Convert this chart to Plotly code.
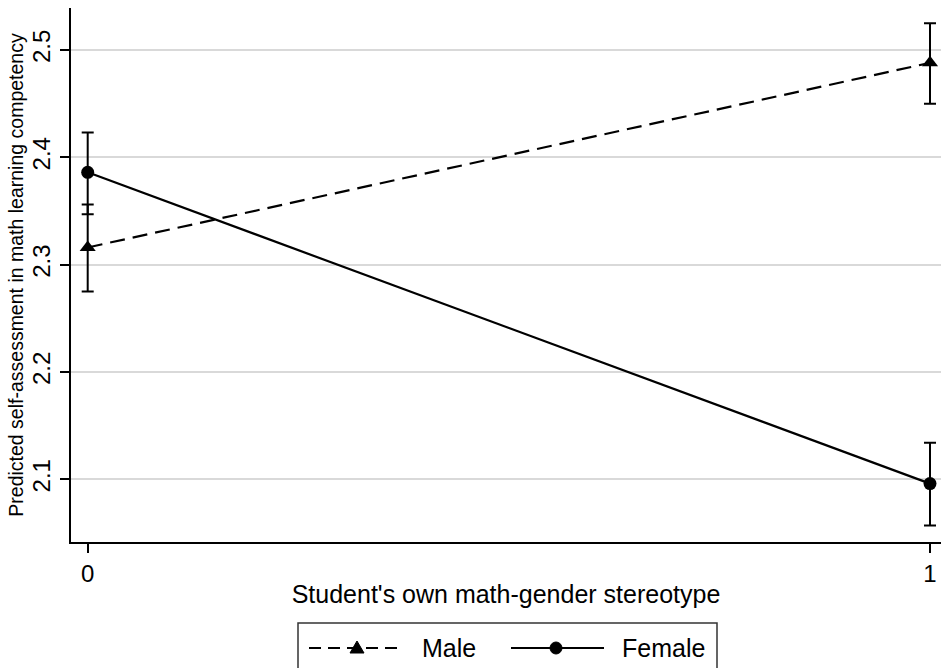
import plotly.graph_objects as go

# Predicted margins with 95% confidence intervals
stereotype = [0, 1]
male = [2.316, 2.488]
male_lo = [2.275, 2.450]
male_hi = [2.356, 2.525]
female = [2.386, 2.096]
female_lo = [2.347, 2.057]
female_hi = [2.423, 2.134]
y_ticks = [2.1, 2.2, 2.3, 2.4, 2.5]
x_ticks = [0, 1]
series_names = ["Male", "Female"]

FONT = "Liberation Sans, Arial, Helvetica, sans-serif"


def err(vals, lo, hi):
    return dict(
        type="data", symmetric=False,
        array=[h - v for v, h in zip(vals, hi)],
        arrayminus=[v - l for v, l in zip(vals, lo)],
        color="black", thickness=2, width=6,
    )


fig = go.Figure()
fig.add_trace(go.Scatter(
    x=stereotype, y=male, mode="lines+markers", name=series_names[0],
    line=dict(color="black", width=2.2, dash="15px,8px"),
    marker=dict(symbol="triangle-up", size=14, color="black"),
    error_y=err(male, male_lo, male_hi), showlegend=False,
))
fig.add_trace(go.Scatter(
    x=stereotype, y=female, mode="lines+markers", name=series_names[1],
    line=dict(color="black", width=2.2),
    marker=dict(symbol="circle", size=13, color="black"),
    error_y=err(female, female_lo, female_hi), showlegend=False,
))

# Hand-built legend below the x-axis title (paper coordinates)
L, R, T, B = 71, 941, 8, 542
W, H = R - L, B - T


def px(X):
    return (X - L) / W


def py(Y):
    return (B - Y) / H


ly = py(648)
shapes = [
    dict(type="rect", xref="paper", yref="paper", x0=px(298), x1=px(717),
         y0=py(623), y1=py(690), line=dict(color="#333333", width=1.5),
         fillcolor="white", layer="below"),
    dict(type="line", xref="paper", yref="paper", x0=px(309), x1=px(404),
         y0=ly, y1=ly, line=dict(color="black", width=2, dash="12px,7px")),
    dict(type="line", xref="paper", yref="paper", x0=px(511), x1=px(604),
         y0=ly, y1=ly, line=dict(color="black", width=2)),
    dict(type="path", xref="paper", yref="paper", xsizemode="pixel",
         ysizemode="pixel", xanchor=px(357), yanchor=ly,
         path="M -7,-5 L 7,-5 L 0,7 Z", fillcolor="black",
         line=dict(color="black", width=1)),
    dict(type="circle", xref="paper", yref="paper", xsizemode="pixel",
         ysizemode="pixel", xanchor=px(556), yanchor=ly,
         x0=-6, x1=6, y0=-6, y1=6, fillcolor="black",
         line=dict(color="black", width=1)),
]
annotations = [
    dict(xref="paper", yref="paper", x=px(420), y=ly, text=series_names[0],
         showarrow=False, xanchor="left", yanchor="middle",
         font=dict(family=FONT, size=25, color="black")),
    dict(xref="paper", yref="paper", x=px(620), y=ly, text=series_names[1],
         showarrow=False, xanchor="left", yanchor="middle",
         font=dict(family=FONT, size=25, color="black")),
]

fig.update_layout(
    width=941, height=668,
    margin=dict(l=L, r=941 - R, t=T, b=668 - B),
    paper_bgcolor="white", plot_bgcolor="white",
    font=dict(family=FONT, color="black"),
    shapes=shapes, annotations=annotations,
    xaxis=dict(
        range=[-(87.7 - L) / 842.3, 1 + (R - 930) / 842.3],
        tickvals=x_ticks, ticktext=[str(t) for t in x_ticks],
        ticks="outside", ticklen=9, tickwidth=2, tickcolor="black",
        tickfont=dict(size=24, family=FONT),
        showline=True, linecolor="black", linewidth=2, mirror=False,
        showgrid=False, zeroline=False,
        title=dict(text="Student's own math-gender stereotype",
                   font=dict(size=25, family=FONT), standoff=0),
    ),
    yaxis=dict(
        range=[2.0416, 2.5391],
        tickvals=y_ticks, ticktext=[f"{t:.1f}" for t in y_ticks],
        tickangle=-90,
        ticks="outside", ticklen=9, tickwidth=2, tickcolor="black",
        tickfont=dict(size=24, family=FONT),
        showline=True, linecolor="black", linewidth=2,
        showgrid=True, gridcolor="#d9d9d9", gridwidth=2, zeroline=False,
        title=dict(text="Predicted self-assessment in math learning competency",
                   font=dict(size=19.5, family=FONT), standoff=0),
    ),
)

fig.write_html("out.html")
